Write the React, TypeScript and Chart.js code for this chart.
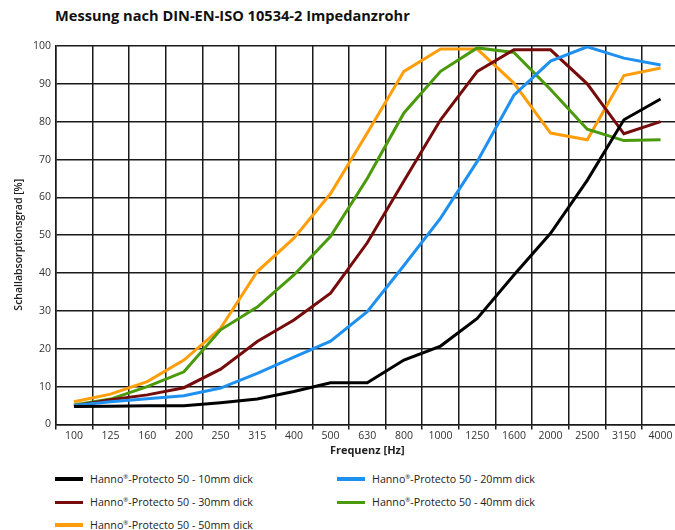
import React, { useEffect, useRef } from 'react';
import { Chart, registerables } from 'chart.js';

Chart.register(...registerables);

const TITLE = 'Messung nach DIN-EN-ISO 10534-2 Impedanzrohr';
const X_TITLE = 'Frequenz [Hz]';
const Y_TITLE = 'Schallabsorptionsgrad [%]';

const frequencies = ['100', '125', '160', '200', '250', '315', '400', '500', '630', '800', '1000', '1250', '1600', '2000', '2500', '3150', '4000'];

const thick10 = [4.7, 4.8, 4.9, 4.9, 5.7, 6.7, 8.7, 11, 11, 17, 20.7, 28, 39.5, 50.5, 64.5, 80.5, 86];
const thick20 = [5, 6, 6.8, 7.6, 9.6, 13.5, 17.8, 22, 29.8, 42, 54.5, 69.5, 87, 96, 99.8, 96.8, 95];
const thick30 = [4.9, 6.5, 7.8, 9.7, 14.6, 21.9, 27.6, 34.7, 48, 64.3, 80.5, 93.3, 99, 99, 90, 76.8, 80];
const thick40 = [5.1, 6.7, 10, 13.9, 25, 31, 39.5, 49.7, 65, 82.3, 93.3, 99.5, 98.3, 88.5, 78, 75, 75.2];
const thick50 = [6, 8, 11.3, 17, 25.4, 40.4, 49.2, 61, 77, 93.3, 99.2, 99.2, 90.2, 77, 75.2, 92.2, 94.2];

const seriesLabels = ['10mm', '20mm', '30mm', '40mm', '50mm'];
const seriesValues = [thick10, thick20, thick30, thick40, thick50];
const seriesColors = ['#000000', '#1e90f0', '#760b0b', '#4a9a0c', '#ff9e0a'];

const FONT = '"Open Sans", "DejaVu Sans", sans-serif';
const GRID = '#1a1a1a';

export default function App() {
  const canvasRef = useRef<HTMLCanvasElement | null>(null);

  useEffect(() => {
    const canvas = canvasRef.current;
    if (!canvas) return;
    Chart.defaults.font.family = FONT;
    const chart = new Chart(canvas, {
      type: 'line',
      data: {
        labels: frequencies,
        datasets: seriesValues.map((vals, i) => ({
          label: `Hanno®-Protecto 50 - ${seriesLabels[i]} dick`,
          data: vals,
          borderColor: seriesColors[i],
          backgroundColor: seriesColors[i],
          borderWidth: 3,
          pointRadius: 0,
          tension: 0,
          fill: false,
        })),
      },
      options: {
        animation: false,
        responsive: false,
        devicePixelRatio: 1,
        layout: { padding: { top: 46, left: 0, right: 21.1, bottom: 5.6 } },
        plugins: {
          legend: { display: false },
          tooltip: { enabled: false },
          title: { display: false },
        },
        scales: {
          x: {
            type: 'category',
            offset: true,
            grid: { offset: true, color: GRID, lineWidth: 1.5, tickLength: 5, drawTicks: true },
            border: { color: GRID, width: 1.5 },
            ticks: { font: { size: 10.5 }, color: '#333', padding: 0, maxRotation: 0, autoSkip: false },
            title: {
              display: true,
              text: X_TITLE,
              color: '#222',
              font: { size: 11, weight: 'bold' },
              padding: { top: 0, bottom: 7 },
            },
            afterFit: (s: any) => {
              s.height = 40;
            },
          },
          y: {
            min: 0,
            max: 100,
            grid: { color: GRID, lineWidth: 1.5, drawTicks: false },
            border: { color: GRID, width: 1.5 },
            ticks: { stepSize: 10, font: { size: 10.5 }, color: '#333', padding: 4.5 },
            title: {
              display: true,
              text: Y_TITLE + '       ',
              color: '#222',
              font: { size: 10.5, weight: '600' },
              padding: { top: 13, bottom: 0 },
            },
            afterFit: (s: any) => {
              s.width = 55.6;
            },
          },
        },
      },
    });
    return () => chart.destroy();
  }, []);

  const legendPos = [
    { x: 55, y: 479 },
    { x: 337, y: 479 },
    { x: 55, y: 502.3 },
    { x: 337, y: 502.3 },
    { x: 55, y: 525 },
  ];

  return (
    <div
      style={{
        position: 'fixed',
        left: 0,
        top: 0,
        width: 675,
        height: 530,
        overflow: 'hidden',
        background: '#fff',
        fontFamily: FONT,
      }}
    >
      <div
        style={{
          position: 'absolute',
          left: 55,
          top: 6,
          fontSize: 14.6,
          lineHeight: '19px',
          fontWeight: 700,
          color: '#111',
          whiteSpace: 'nowrap',
        }}
      >
        {TITLE}
      </div>
      <canvas
        ref={canvasRef}
        width={700}
        height={470}
        style={{ position: 'absolute', left: 0, top: 0, width: 700, height: 470, display: 'block' }}
      />
      {seriesLabels.map((lab, i) => (
        <div
          key={lab}
          style={{
            position: 'absolute',
            left: legendPos[i].x,
            top: legendPos[i].y - 9,
            height: 18,
            display: 'flex',
            alignItems: 'center',
            whiteSpace: 'nowrap',
            fontSize: 10.7,
            color: '#222',
          }}
        >
          <span style={{ display: 'inline-block', width: 28, height: 3.5, background: seriesColors[i], marginRight: 7 }} />
          <span>
            Hanno<sup style={{ fontSize: 6, verticalAlign: 'top', lineHeight: '10px' }}>®</sup>-Protecto 50 - {lab} dick
          </span>
        </div>
      ))}
    </div>
  );
}
